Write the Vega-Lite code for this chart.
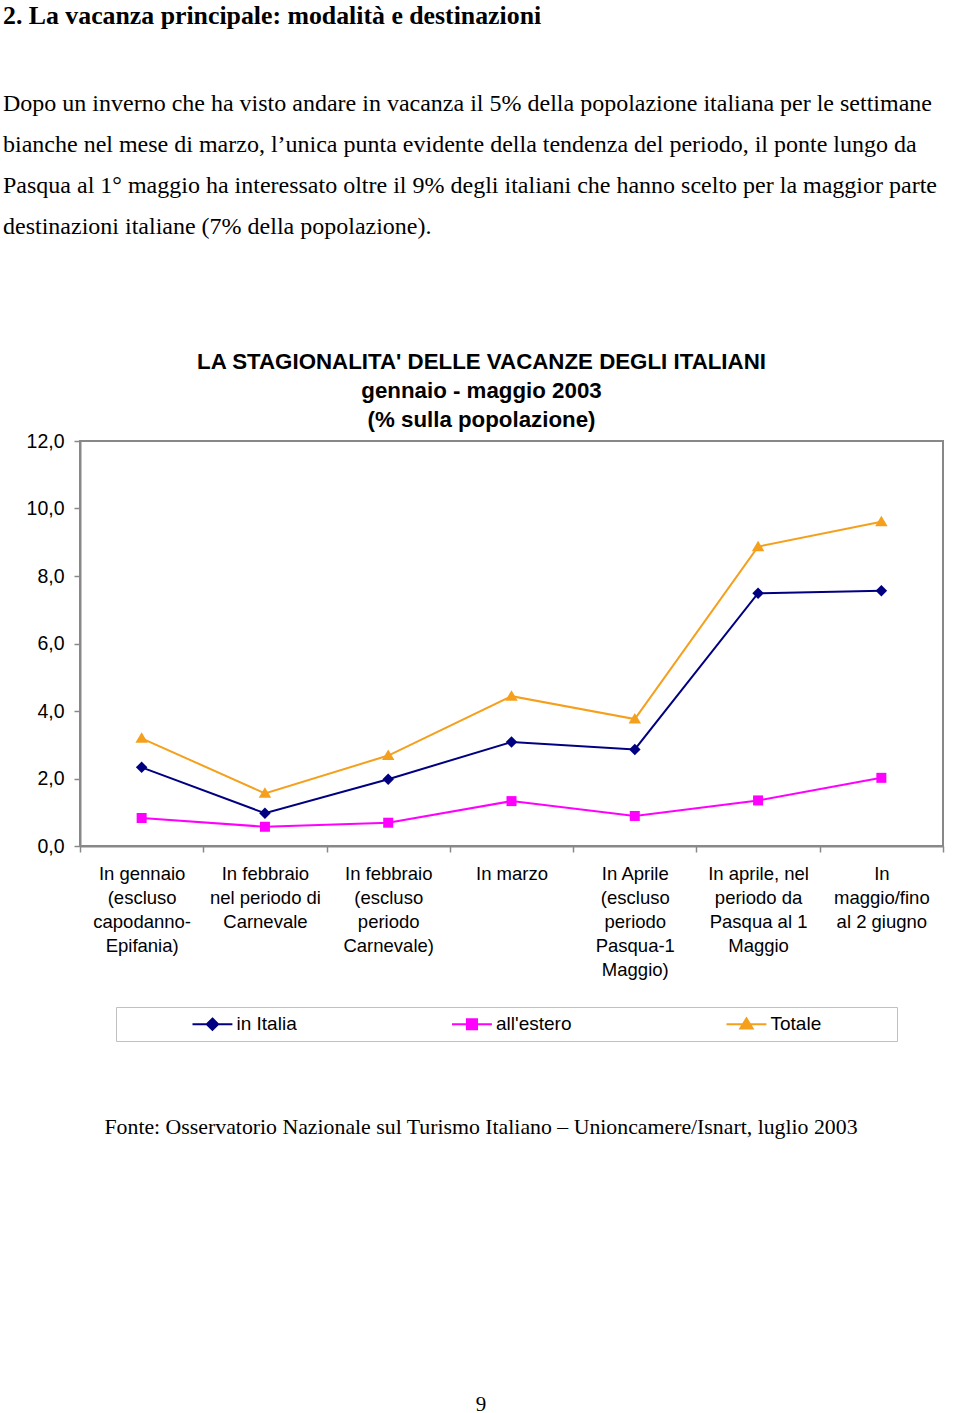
{
  "$schema": "https://vega.github.io/schema/vega-lite/v6.json",
  "background": "white",
  "padding": {"left": 3, "top": 2, "right": 0, "bottom": 6},
  "title": {
    "text": "2. La vacanza principale: modalità e destinazioni",
    "subtitle": [
      "Dopo un inverno che ha visto andare in vacanza il 5% della popolazione italiana per le settimane",
      "bianche nel mese di marzo, l’unica punta evidente della tendenza del periodo, il ponte lungo da",
      "Pasqua al 1° maggio ha interessato oltre il 9% degli italiani che hanno scelto per la maggior parte",
      "destinazioni italiane (7% della popolazione)."
    ],
    "anchor": "start",
    "frame": "bounds",
    "font": "Liberation Serif",
    "fontSize": 25.8,
    "fontWeight": "bold",
    "color": "#000000",
    "subtitleFont": "Liberation Serif",
    "subtitleFontSize": 24,
    "subtitleFontWeight": "normal",
    "subtitleColor": "#000000",
    "subtitleLineHeight": 41,
    "subtitlePadding": 62,
    "offset": 110
  },
  "spacing": 40,
  "vconcat": [
    {
      "width": 863,
      "height": 405,
      "view": {"stroke": "#888888", "strokeWidth": 2},
      "title": {
        "text": ["LA STAGIONALITA' DELLE VACANZE DEGLI ITALIANI", "gennaio - maggio 2003", "(% sulla popolazione)"],
        "font": "Liberation Sans",
        "fontSize": 22.3,
        "fontWeight": "bold",
        "lineHeight": 29,
        "anchor": "middle",
        "frame": "group",
        "dx": -30,
        "offset": 0,
        "color": "#000000"
      },
      "data": {
        "values": [
          {"cat": "In gennaio|(escluso|capodanno-|Epifania)", "serie": "in Italia", "v": 2.33},
          {"cat": "In febbraio|nel periodo di|Carnevale", "serie": "in Italia", "v": 0.97},
          {"cat": "In febbraio|(escluso|periodo|Carnevale)", "serie": "in Italia", "v": 1.98},
          {"cat": "In marzo", "serie": "in Italia", "v": 3.08},
          {"cat": "In Aprile|(escluso|periodo|Pasqua-1|Maggio)", "serie": "in Italia", "v": 2.86},
          {"cat": "In aprile, nel|periodo da|Pasqua al 1|Maggio", "serie": "in Italia", "v": 7.49},
          {"cat": "In|maggio/fino|al 2 giugno", "serie": "in Italia", "v": 7.56},
          {"cat": "In gennaio|(escluso|capodanno-|Epifania)", "serie": "all'estero", "v": 0.83},
          {"cat": "In febbraio|nel periodo di|Carnevale", "serie": "all'estero", "v": 0.57},
          {"cat": "In febbraio|(escluso|periodo|Carnevale)", "serie": "all'estero", "v": 0.69},
          {"cat": "In marzo", "serie": "all'estero", "v": 1.33},
          {"cat": "In Aprile|(escluso|periodo|Pasqua-1|Maggio)", "serie": "all'estero", "v": 0.89},
          {"cat": "In aprile, nel|periodo da|Pasqua al 1|Maggio", "serie": "all'estero", "v": 1.35},
          {"cat": "In|maggio/fino|al 2 giugno", "serie": "all'estero", "v": 2.02},
          {"cat": "In gennaio|(escluso|capodanno-|Epifania)", "serie": "Totale", "v": 3.19},
          {"cat": "In febbraio|nel periodo di|Carnevale", "serie": "Totale", "v": 1.56},
          {"cat": "In febbraio|(escluso|periodo|Carnevale)", "serie": "Totale", "v": 2.68},
          {"cat": "In marzo", "serie": "Totale", "v": 4.44},
          {"cat": "In Aprile|(escluso|periodo|Pasqua-1|Maggio)", "serie": "Totale", "v": 3.76},
          {"cat": "In aprile, nel|periodo da|Pasqua al 1|Maggio", "serie": "Totale", "v": 8.87},
          {"cat": "In|maggio/fino|al 2 giugno", "serie": "Totale", "v": 9.61}
        ]
      },
      "encoding": {
        "x": {
          "field": "cat",
          "type": "nominal",
          "sort": null,
          "scale": {"type": "band", "paddingInner": 0, "paddingOuter": 0},
          "axis": {
            "title": null,
            "labelAngle": 0,
            "labelExpr": "split(datum.label, '|')",
            "labelLineHeight": 24,
            "labelBaseline": "top",
            "labelAlign": "center",
            "labelFont": "Liberation Sans",
            "labelFontSize": 18.5,
            "labelColor": "#000000",
            "labelPadding": 12,
            "labelLimit": 200,
            "tickBand": "extent",
            "domainColor": "#888888",
            "domainWidth": 2,
            "tickColor": "#888888",
            "tickWidth": 1.5,
            "tickSize": 6
          }
        },
        "y": {
          "field": "v",
          "type": "quantitative",
          "scale": {"domain": [0, 12], "nice": false},
          "axis": {
            "title": null,
            "values": [0, 2, 4, 6, 8, 10, 12],
            "labelExpr": "replace(format(datum.value, '.1f'), '.', ',')",
            "grid": false,
            "domainColor": "#888888",
            "domainWidth": 2,
            "tickColor": "#888888",
            "tickWidth": 1.5,
            "tickSize": 6,
            "labelPadding": 10,
            "labelFont": "Liberation Sans",
            "labelFontSize": 19.5,
            "labelColor": "#000000",
            "minExtent": 76
          }
        },
        "color": {
          "field": "serie",
          "type": "nominal",
          "scale": {"domain": ["in Italia", "all'estero", "Totale"], "range": ["#000080", "#FF00FF", "#F5A01D"]},
          "legend": {
            "orient": "none",
            "legendX": 36,
            "legendY": 566,
            "direction": "horizontal",
            "title": "x",
            "titleOrient": "left",
            "titleOpacity": 0,
            "titleFontSize": 2,
            "titlePadding": 67,
            "padding": 6.5,
            "strokeColor": "#c0c0c0",
            "fillColor": "white",
            "symbolSize": 361,
            "symbolStrokeWidth": 2,
            "labelFont": "Liberation Sans",
            "labelFontSize": 19,
            "labelColor": "#000000",
            "labelOffset": 24,
            "columnPadding": 150.5,
            "labelExpr": "datum.label == 'Totale' ? datum.label + '             \u200b' : datum.label",
            "encode": {
              "symbols": {
                "update": {
                  "shape": {"signal": "datum.value === 'in Italia' ? 'M-1,0L3.2,0M1.1,-0.6L1.7,0L1.1,0.6L0.5,0Z' : datum.value === 'Totale' ? 'M-1,0L3.2,0M1.1,-0.62L1.75,0.46L0.45,0.46Z' : 'M-1,0L3.2,0M0.57,-0.53L1.63,-0.53L1.63,0.53L0.57,0.53Z'"},
                  "fill": {"signal": "scale('color', datum.value)"},
                  "stroke": {"signal": "scale('color', datum.value)"},
                  "strokeWidth": {"value": 2},
                  "opacity": {"value": 1}
                }
              }
            }
          }
        }
      },
      "layer": [
        {"mark": {"type": "line", "strokeWidth": 2}},
        {
          "transform": [{"filter": {"field": "serie", "equal": "in Italia"}}],
          "mark": {"type": "point", "filled": true, "opacity": 1, "size": 100, "shape": "M0,-1.15L1.15,0L0,1.15L-1.15,0Z"}
        },
        {
          "transform": [{"filter": {"field": "serie", "equal": "all'estero"}}],
          "mark": {"type": "point", "filled": true, "opacity": 1, "size": 100, "shape": "M-1,-1L1,-1L1,1L-1,1Z"}
        },
        {
          "transform": [{"filter": {"field": "serie", "equal": "Totale"}}],
          "mark": {"type": "point", "filled": true, "opacity": 1, "size": 100, "shape": "M0,-1.2L1.25,0.9L-1.25,0.9Z"}
        }
      ]
    },
    {
      "width": 802,
      "height": 1,
      "data": {"values": [{"t": ""}]},
      "mark": {"type": "text"},
      "encoding": {"text": {"field": "t"}},
      "title": {
        "text": "Fonte: Osservatorio Nazionale sul Turismo Italiano – Unioncamere/Isnart, luglio 2003",
        "subtitle": "9",
        "orient": "bottom",
        "anchor": "middle",
        "frame": "group",
        "font": "Liberation Serif",
        "fontSize": 21.8,
        "fontWeight": "normal",
        "color": "#000000",
        "subtitleFont": "Liberation Serif",
        "subtitleFontSize": 21,
        "subtitleColor": "#000000",
        "subtitlePadding": 256,
        "offset": 85
      }
    }
  ],
  "config": {"view": {"stroke": null}, "font": "Liberation Sans"}
}
